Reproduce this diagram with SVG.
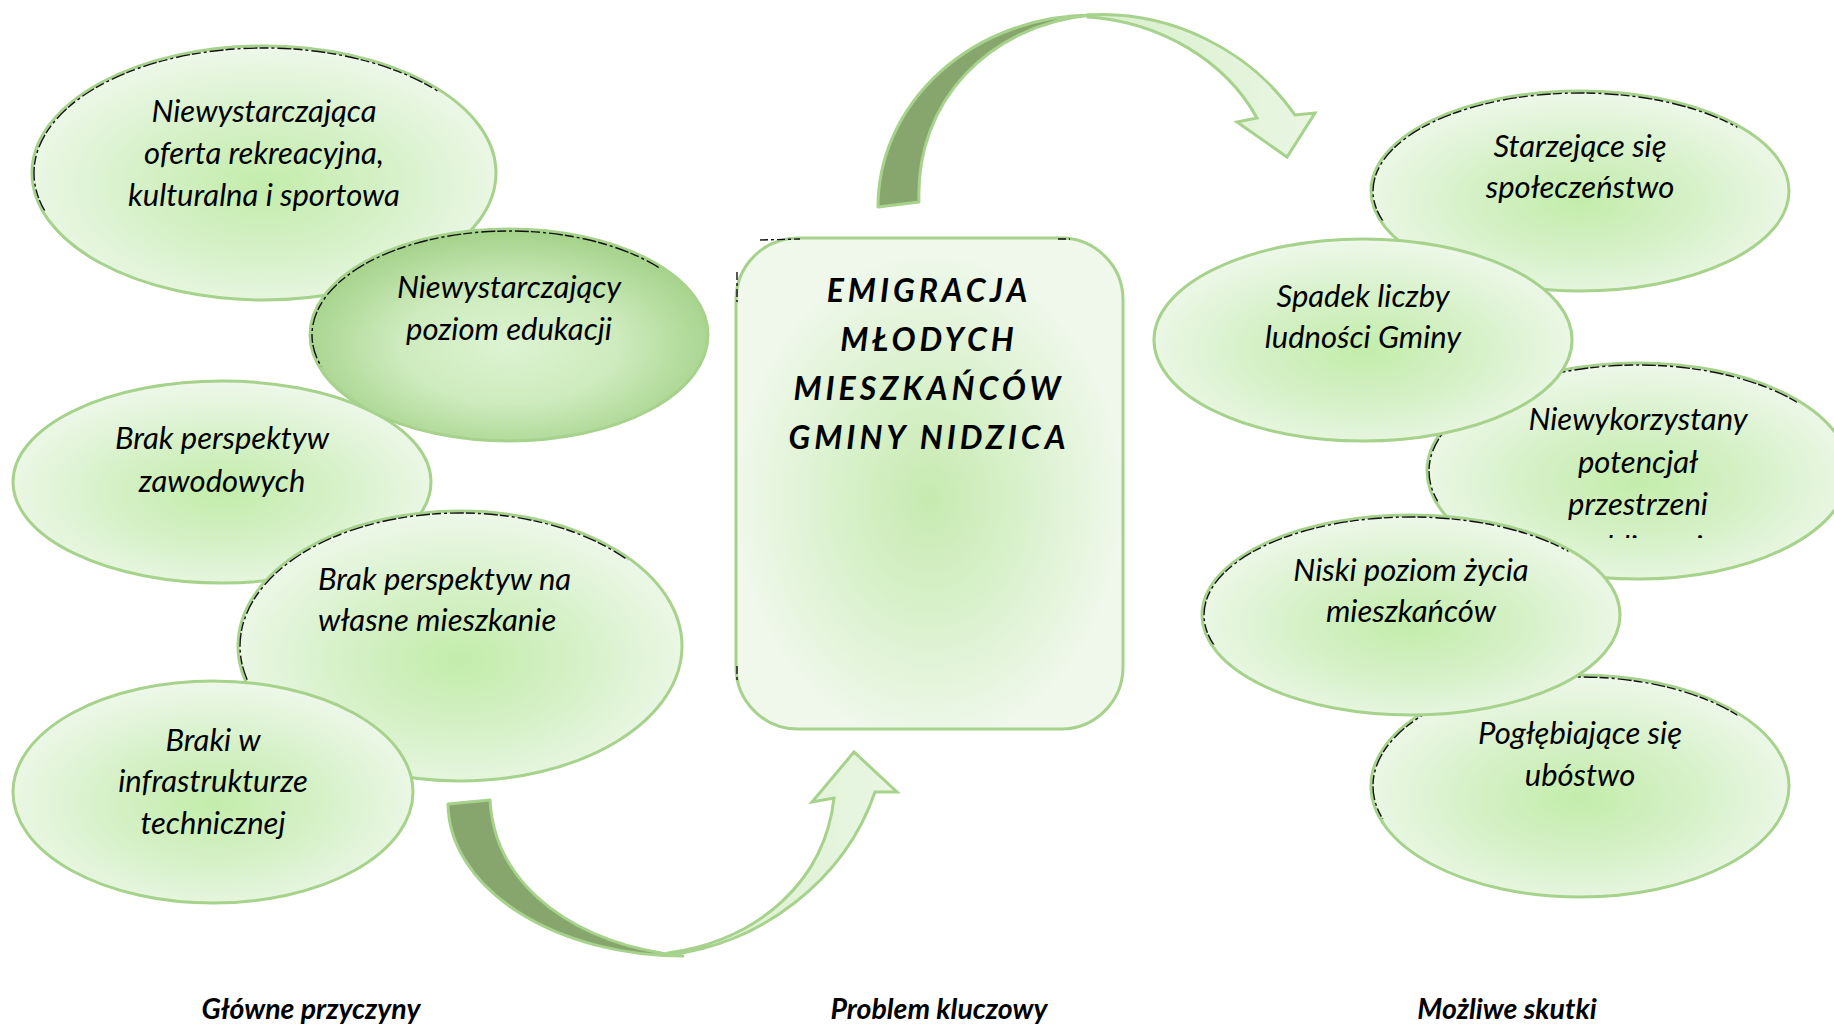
<svg xmlns="http://www.w3.org/2000/svg" width="1834" height="1027" viewBox="0 0 1834 1027">
<style>
  .el { fill: url(#gE); stroke: #A6D28C; stroke-width: 3; }
  .eld { fill: url(#gD); stroke: #A6D28C; stroke-width: 3; }
  .art { fill: none; stroke: #111; stroke-width: 1.4; stroke-dasharray: 9 3 3 3 14 2; }
  .t { font-family: Lato, "Open Sans", "Liberation Sans", sans-serif; font-style: italic; font-size: 31px; fill: #000; text-anchor: middle; }
  .tb { font-family: Lato, "Open Sans", "Liberation Sans", sans-serif; font-style: italic; font-weight: bold; font-size: 32px; letter-spacing: 4px; fill: #000; text-anchor: middle; }
  .lab { font-family: Lato, "Open Sans", "Liberation Sans", sans-serif; font-style: italic; font-weight: bold; font-size: 28.5px; fill: #000; text-anchor: middle; }
  .dark { fill: #86A66E; stroke: #A6D28C; stroke-width: 3; stroke-linejoin: round; }
  .light { fill: url(#gL); stroke: #A6D28C; stroke-width: 3; stroke-linejoin: miter; }
</style>
<defs>
  <radialGradient id="gE" cx="0.5" cy="0.55" r="0.55">
    <stop offset="0" stop-color="#C3EDAB"/>
    <stop offset="0.45" stop-color="#D4F0C5"/>
    <stop offset="1" stop-color="#EEF8EA"/>
  </radialGradient>
  <radialGradient id="gD" cx="0.5" cy="0.55" r="0.55">
    <stop offset="0" stop-color="#DDF3D2"/>
    <stop offset="0.5" stop-color="#CDEBBD"/>
    <stop offset="1" stop-color="#A3D188"/>
  </radialGradient>
  <radialGradient id="gB" cx="0.5" cy="0.53" r="0.5">
    <stop offset="0" stop-color="#C6EAB0"/>
    <stop offset="0.5" stop-color="#DAF1CD"/>
    <stop offset="1" stop-color="#EFF8EB"/>
  </radialGradient>
  <linearGradient id="gL" x1="0" y1="0" x2="1" y2="0">
    <stop offset="0" stop-color="#D8EFCB"/>
    <stop offset="1" stop-color="#E9F6E3"/>
  </linearGradient>
  <clipPath id="tl" clipPathUnits="objectBoundingBox">
    <rect x="-0.1" y="-0.1" width="0.98" height="0.75"/>
  </clipPath>
  <clipPath id="clip8">
    <rect x="1400" y="360" width="440" height="178"/>
  </clipPath>
</defs>

<rect width="1834" height="1027" fill="#FFFFFF"/>

<g id="connectors">
  <g id="arrow-top">
    <path class="dark" d="M 878,207 A 215 192 0 0 1 1091,15 C 990,25 915,100 919,202 Z"/>
    <path class="light" d="M 1088,15 C 1170,10 1250,50 1295,115 L 1315,113 L 1287,157 L 1237,122 L 1257,118 C 1225,60 1160,22 1088,17 Z"/>
  </g>
  <g id="arrow-bottom">
    <path class="dark" d="M 448,804 A 235 153 0 0 0 683,956 C 580,945 495,890 490,800 Z"/>
    <path class="light" d="M 668,955 C 760,945 845,880 875,792 L 897,792 L 854,752 L 812,802 L 834,798 C 825,880 760,940 668,953 Z"/>
  </g>
</g>

<g id="n1">
  <ellipse class="el" cx="264" cy="173" rx="232" ry="127"/>
  <ellipse class="art" cx="264" cy="173" rx="230" ry="125" clip-path="url(#tl)"/>
  <text class="t" x="264" y="122">Niewystarczająca</text>
  <text class="t" x="264" y="164">oferta rekreacyjna,</text>
  <text class="t" x="264" y="206">kulturalna i sportowa</text>
</g>

<g id="n3">
  <ellipse class="el" cx="222" cy="482" rx="209" ry="101"/>
  <text class="t" x="222" y="449">Brak perspektyw</text>
  <text class="t" x="222" y="492">zawodowych</text>
</g>

<g id="n2">
  <ellipse class="eld" cx="509" cy="335" rx="199" ry="106"/>
  <ellipse class="art" cx="509" cy="335" rx="197" ry="104" clip-path="url(#tl)"/>
  <text class="t" x="509" y="298">Niewystarczający</text>
  <text class="t" x="509" y="340">poziom edukacji</text>
</g>

<g id="n4">
  <ellipse class="el" cx="460" cy="646" rx="222" ry="135"/>
  <ellipse class="art" cx="460" cy="646" rx="220" ry="133" clip-path="url(#tl)"/>
  <text class="t" x="318" y="590" style="text-anchor:start">Brak perspektyw na</text>
  <text class="t" x="318" y="631" style="text-anchor:start">własne mieszkanie</text>
</g>

<g id="n5">
  <ellipse class="el" cx="213" cy="792" rx="200" ry="111"/>
  <text class="t" x="213" y="751">Braki w</text>
  <text class="t" x="213" y="792">infrastrukturze</text>
  <text class="t" x="213" y="834">technicznej</text>
</g>

<g id="center">
  <rect x="736" y="238" width="387" height="491" rx="62" ry="62" fill="url(#gB)" stroke="#A6D28C" stroke-width="3"/>
  <path d="M 737,272 L 737,302 M 760,240 L 800,239 M 1058,239 L 1070,239 M 737,666 L 737,680" fill="none" stroke="#111" stroke-width="1.4" stroke-dasharray="8 3 3 3"/>
  <text class="tb" x="929" y="302">EMIGRACJA</text>
  <text class="tb" x="929" y="351">MŁODYCH</text>
  <text class="tb" x="929" y="400">MIESZKAŃCÓW</text>
  <text class="tb" x="929" y="449">GMINY NIDZICA</text>
</g>

<g id="n6">
  <ellipse class="el" cx="1580" cy="191" rx="209" ry="100"/>
  <ellipse class="art" cx="1580" cy="191" rx="207" ry="98" clip-path="url(#tl)"/>
  <text class="t" x="1580" y="157">Starzejące się</text>
  <text class="t" x="1580" y="198">społeczeństwo</text>
</g>

<g id="n8">
  <ellipse class="el" cx="1638" cy="471" rx="211" ry="108"/>
  <ellipse class="art" cx="1638" cy="471" rx="209" ry="106" clip-path="url(#tl)"/>
  <g clip-path="url(#clip8)">
    <text class="t" x="1638" y="430">Niewykorzystany</text>
    <text class="t" x="1638" y="473">potencjał</text>
    <text class="t" x="1638" y="515">przestrzeni</text>
    <text class="t" x="1638" y="558">publicznej</text>
  </g>
</g>

<g id="n10">
  <ellipse class="el" cx="1580" cy="786" rx="209" ry="111"/>
  <ellipse class="art" cx="1580" cy="786" rx="207" ry="109" clip-path="url(#tl)"/>
  <text class="t" x="1580" y="744">Pogłębiające się</text>
  <text class="t" x="1580" y="786">ubóstwo</text>
</g>

<g id="n7">
  <ellipse class="el" cx="1363" cy="340" rx="209" ry="101"/>
  <text class="t" x="1363" y="307">Spadek liczby</text>
  <text class="t" x="1363" y="348">ludności Gminy</text>
</g>

<g id="n9">
  <ellipse class="el" cx="1411" cy="615" rx="209" ry="100"/>
  <ellipse class="art" cx="1411" cy="615" rx="207" ry="98" clip-path="url(#tl)"/>
  <text class="t" x="1411" y="581">Niski poziom życia</text>
  <text class="t" x="1411" y="622">mieszkańców</text>
</g>

<g id="labels">
  <text class="lab" x="311" y="1019">Główne przyczyny</text>
  <text class="lab" x="939" y="1019">Problem kluczowy</text>
  <text class="lab" x="1507" y="1019">Możliwe skutki</text>
</g>
</svg>
